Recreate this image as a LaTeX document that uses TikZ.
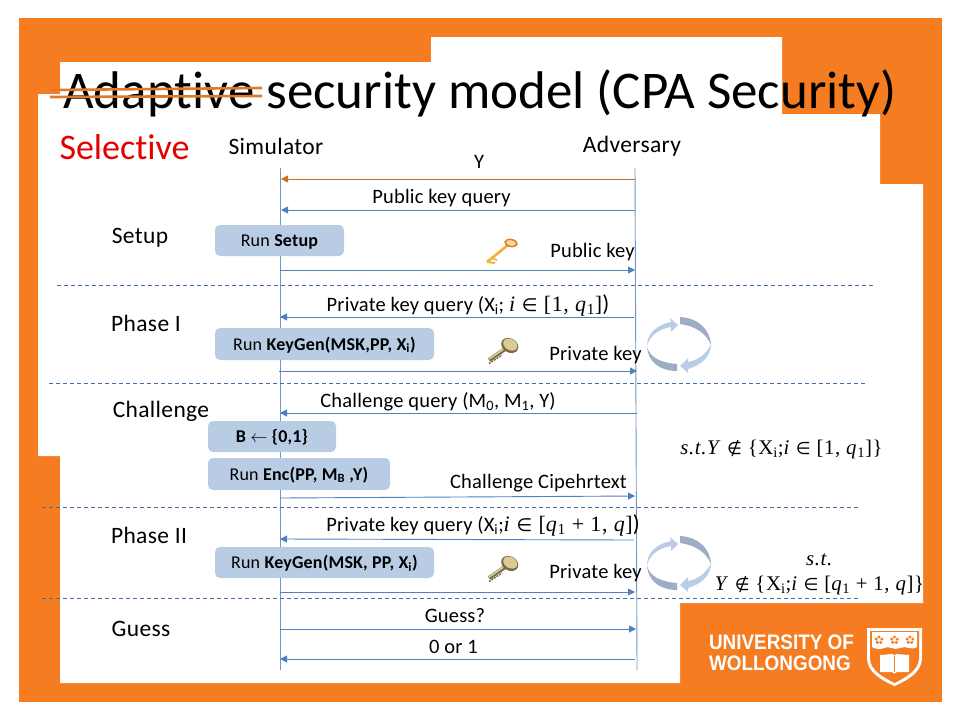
\documentclass[tikz,border=0pt]{standalone}
\usepackage{fontspec}
\setmainfont[Ligatures=NoCommon]{Carlito}
\newfontfamily\lblfont[Ligatures=NoCommon,LetterSpace=1]{Carlito}
\newfontfamily\stepfont[Ligatures=NoCommon,LetterSpace=1.5]{Carlito}
\newfontfamily\eqfont[LetterSpace=3]{Liberation Serif}
\newfontfamily\symfont{DejaVu Sans}
\newfontfamily\logofont{Liberation Sans}
\usetikzlibrary{arrows.meta}
\definecolor{uoworange}{HTML}{F57C20}
\definecolor{seqblue}{HTML}{4F81BD}
\definecolor{lifeblue}{HTML}{6F97C8}
\definecolor{boxblue}{HTML}{B8CCE4}
\definecolor{darkcycle}{HTML}{9DAEC4}
\definecolor{lightcycle}{HTML}{BACDE6}
\definecolor{strike}{HTML}{E07A28}
\definecolor{goldkey}{HTML}{F0B238}
\definecolor{tankey}{HTML}{D9CB92}
\definecolor{darkkey}{HTML}{76684A}
\newcommand{\itm}[1]{\textit{#1}}
\newcommand{\isin}{\scalebox{0.82}{\symfont\char"2208}}
\newcommand{\nisin}{\scalebox{0.82}{\symfont\char"2209}}
\tikzset{
  msg/.style={draw=seqblue, line width=0.9pt, -{Triangle[length=7pt,width=7pt]}},
  life/.style={draw=lifeblue, line width=0.9pt},
  sep/.style={draw=seqblue!85!black, line width=0.6pt, dash pattern=on 4pt off 3pt},
  runbox/.style={fill=boxblue, rounded corners=5pt, text height=13pt, text depth=1pt, font=\lblfont\fontsize{18}{21}\selectfont},
  lbl/.style={font=\lblfont\fontsize{20.5}{24}\selectfont, inner sep=0pt},
  steplbl/.style={font=\stepfont\fontsize{23.5}{27}\selectfont, inner sep=0pt},
  eqn/.style={font=\eqfont\fontsize{20.8}{25}\selectfont, inner sep=0pt, align=center}
}
\begin{document}
\begin{tikzpicture}[x=1pt, y=-1pt]
\useasboundingbox (0,0) rectangle (960,720);

% frame
\fill[uoworange] (19,18) rectangle (942,702);
\fill[white] (431,37) -- (782,37) -- (782,114) -- (880,114) -- (880,184) -- (923,184)
  -- (923,603) -- (680,603) -- (680,683) -- (60,683) -- (60,456) -- (38,456)
  -- (38,94) -- (60,94) -- (60,62) -- (431,62) -- cycle;

% title
\node[inner sep=0pt, font=\fontsize{53}{60}\selectfont] (title) at (480,93) {Adaptive security model (CPA Security)};
\draw[draw=strike, line width=2.6pt] (50,90) -- (262,88);
\draw[draw=strike, line width=2.6pt] (50,97) -- (262,96);
\node[inner sep=0pt, text=red!90!black, font=\fontsize{36}{40}\selectfont] (selective) at (124.5,147) {Selective};

% lifelines
\coordinate (simtop) at (280,168);
\coordinate (simbot) at (280,670);
\coordinate (advtop) at (635,168);
\coordinate (advbot) at (637,670);
\draw[life] (simtop) -- (simbot);
\draw[life] (advtop) -- (advbot);
\node[steplbl] (simulator) at (276,146) {Simulator};
\node[steplbl] (adversary) at (632,146) {Adversary};

% phases
\draw[sep] (57,285) -- (874,285);
\draw[sep] (49,383) -- (866,383);
\draw[sep] (42,507) -- (860,507);
\draw[sep] (42,598) -- (859,598);
\node[steplbl] (setup) at (140,238) {Setup};
\node[steplbl] (phaseone) at (146,323) {Phase I};
\node[steplbl] (challenge) at (161,411) {Challenge};
\node[steplbl] (phasetwo) at (149,535) {Phase II};
\node[steplbl] (guess) at (141,629) {Guess};

% algorithm boxes
\node[runbox, minimum width=129pt, minimum height=31pt] (runsetup) at (279.5,240.5) {Run \textbf{Setup}};
\node[runbox, minimum width=219pt, minimum height=32pt] (keygenone) at (324.5,344) {Run \textbf{KeyGen(MSK,PP, X\textsubscript{i})}};
\node[runbox, minimum width=128pt, minimum height=31pt] (sample) at (272,436.5) {\textbf{B} $\leftarrow$ \textbf{\{0,1\}}};
\node[runbox, minimum width=182pt, minimum height=32pt] (runenc) at (299,474) {Run \textbf{Enc(PP, M\textsubscript{B} ,Y)}};
\node[runbox, minimum width=219pt, minimum height=31pt] (keygentwo) at (324.5,562.5) {Run \textbf{KeyGen(MSK, PP, X\textsubscript{i})}};

% messages
\coordinate (ya) at (635,179);        \coordinate (ys) at (281,179);
\coordinate (pkqa) at (635,210);      \coordinate (pkqs) at (281,210);
\coordinate (pks) at (280,270);       \coordinate (pka) at (635,270);
\coordinate (skqa) at (634,317);      \coordinate (skqs) at (280,317);
\coordinate (sks) at (279,371);       \coordinate (ska) at (637,371);
\coordinate (chqa) at (637,413);      \coordinate (chqs) at (280,413);
\coordinate (ctxs) at (280,498);      \coordinate (ctxa) at (635,496);
\coordinate (skqia) at (634,540);     \coordinate (skqis) at (280,539);
\coordinate (skis) at (280,592);      \coordinate (skia) at (635,592);
\coordinate (gus) at (280,629);       \coordinate (gua) at (636,629);
\coordinate (bita) at (635,659);      \coordinate (bits) at (280,659);

\draw[msg, draw=strike!90!black] (ya) -- (ys);
\draw[msg] (pkqa) -- (pkqs);
\draw[msg] (pks) -- (pka);
\draw[msg] (skqa) -- (skqs);
\draw[msg] (sks) -- (ska);
\draw[msg] (chqa) -- (chqs);
\draw[msg] (ctxs) -- (ctxa);
\draw[msg] (skqia) -- (skqis);
\draw[msg] (skis) -- (skia);
\draw[msg] (gus) -- (gua);
\draw[msg] (bita) -- (bits);

\node[lbl] (ylab) at (479,162) {Y};
\node[lbl] (pkqlab) at (441.5,198) {Public key query};
\node[lbl] (pklab) at (592.5,252) {Public key};
\node[lbl] (skqlab) at (468,305) {Private key query (X\textsubscript{i}; {\eqfont\fontsize{22}{24}\selectfont\itm{i} \isin{} [1, \itm{q}\textsubscript{1}]}{\fontsize{23}{24}\selectfont )}};
\node[lbl] (sklab) at (595.5,355) {Private key};
\node[lbl] (chqlab) at (438,402) {Challenge query (M\textsubscript{0}, M\textsubscript{1}, Y)};
\node[lbl] (ctxlab) at (538.5,483) {Challenge Cipehrtext};
\node[lbl] (skqilab) at (483,525) {Private key query (X\textsubscript{i};{\eqfont\fontsize{22}{24}\selectfont\itm{i} \isin{} [\itm{q}\textsubscript{1} + 1, \itm{q}]}{\fontsize{23}{24}\selectfont )}};
\node[lbl] (skilab) at (595.5,573) {Private key};
\node[lbl] (gulab) at (455,616) {Guess?};
\node[lbl] (bitlab) at (453.5,647) {0 or 1};

% side conditions
\node[eqn] (condone) at (781.5,449) {\itm{s.t.Y} \nisin{} \{X\textsubscript{i};\itm{i} \isin{} [1, \itm{q}\textsubscript{1}]\}};
\node[eqn] (condtwo) at (819.5,574.5) {\itm{s.t.}\\\itm{Y} \nisin{} \{X\textsubscript{i};\itm{i} \isin{} [\itm{q}\textsubscript{1} + 1, \itm{q}]\}};

% keys
\draw[draw=goldkey, line width=2.6pt] (487,262) -- (508,245);
\draw[draw=goldkey, line width=2pt] (487,262) -- (495,263);
\draw[draw=goldkey, line width=1.6pt] (491,258) -- (497,260);
\draw[draw=strike, fill=goldkey!50!white, line width=1.5pt, rotate around={-10:(511,243)}] (511,243) ellipse (6pt and 3.5pt);
\foreach \dy in {0,218} {
\begin{scope}[shift={(0,\dy)}]
\draw[draw=darkkey, line width=4pt] (489,360) -- (505,349);
\draw[draw=tankey, line width=1.8pt] (489,359) -- (505,348);
\draw[draw=darkkey, line width=1.4pt, dash pattern=on 2pt off 1pt] (489,363.5) -- (502,355);
\fill[darkkey, rotate around={-30:(510,345)}] (510,345.5) ellipse (9pt and 7pt);
\fill[tankey, rotate around={-30:(510,345)}] (510,344.5) ellipse (7.5pt and 5.5pt);
\end{scope}
}

% cycle arrows
\foreach \dy in {0,219} {
\begin{scope}[shift={(0,\dy)}]
\fill[darkcycle] (680,317) .. controls (698,318) and (710,329) .. (711,345) .. controls (706,333) and (695,326) .. (680,324) -- cycle;
\fill[darkcycle] (647,347) .. controls (650,358) and (662,363) .. (677,364) -- (677,371) .. controls (659,371) and (648,361) .. (647,347) -- cycle;
\fill[lightcycle] (647,346) .. controls (647,333) and (657,325) .. (671,322) -- (670,318) -- (678,325) -- (671,332) -- (671,327) .. controls (658,329) and (650,336) .. (647,346) -- cycle;
\fill[lightcycle] (711,344) .. controls (711,357) and (701,365) .. (688,369) -- (688,373) -- (680,366) -- (688,358) -- (688,362) .. controls (699,360) and (707,353) .. (711,344) -- cycle;
\end{scope}
}

% logo
\node[inner sep=0pt, text=white, align=left, font=\logofont\bfseries\fontsize{21}{21}\selectfont] (wordmark) at (781.5,653) {\scalebox{0.9}[1]{UNIVERSITY OF}\\\scalebox{0.9}[1]{WOLLONGONG}};
\fill[white] (867,628) -- (922,628) -- (922,658) .. controls (922,672) and (908,680) .. (894.5,686) .. controls (881,680) and (867,672) .. (867,658) -- cycle;
\fill[uoworange] (870,631) -- (919,631) -- (919,658) .. controls (919,670) and (906,677) .. (894.5,683) .. controls (883,677) and (870,670) .. (870,658) -- cycle;
\fill[white] (872,632) -- (917,632) -- (917,647) .. controls (911,651) and (906,645) .. (900,648) .. controls (894,651) and (889,645) .. (884,648) .. controls (880,650) and (876,649) .. (872,647) -- cycle;
\foreach \sx in {879,894.5,910} {
\foreach \ang in {90,162,234,306,18} \fill[uoworange] (\sx,640) ++(\ang:3pt) circle (1.7pt);
}
\fill[white] (880,655) -- (893,654) -- (894.5,656) -- (896,654) -- (909,655) -- (909,672) -- (897,672) -- (894.5,673.5) -- (892,672) -- (880,672) -- cycle;
\draw[uoworange, line width=0.8pt] (894.5,656) -- (894.5,672);
\end{tikzpicture}
\end{document}
